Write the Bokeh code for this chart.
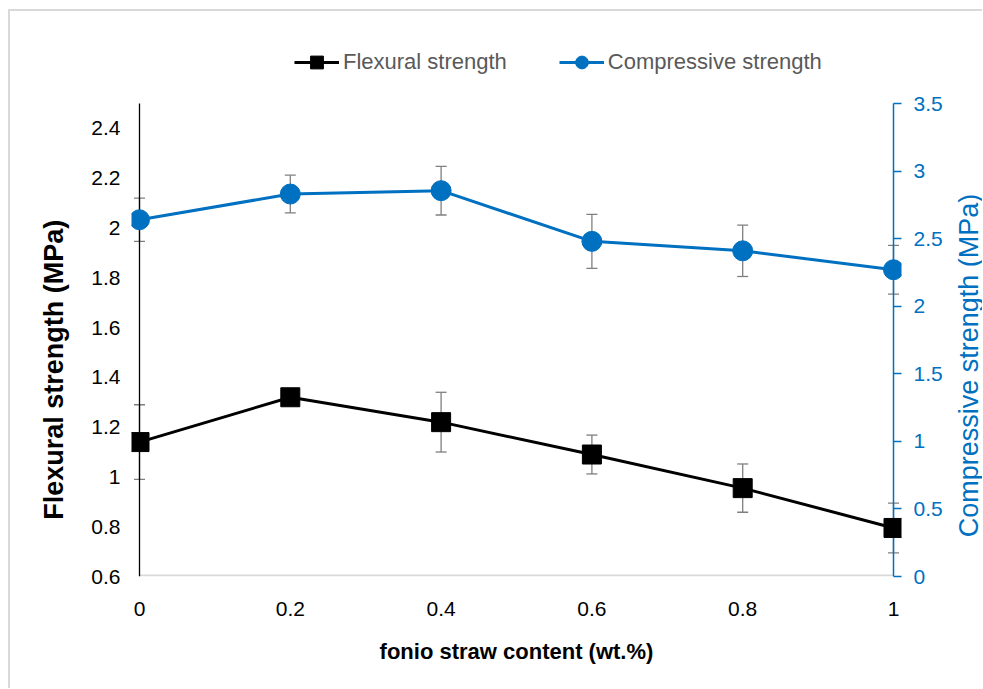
import math
from bokeh.plotting import figure
from bokeh.layouts import row
from bokeh.models import (Range1d, LinearAxis, FixedTicker, NumeralTickFormatter, Whisker,
                          TeeHead, ColumnDataSource, Legend, LegendItem, BoxAnnotation,
                          Label)
from bokeh.embed import file_html
from bokeh.resources import INLINE

# ---- data ----
content = [0.0, 0.2, 0.4, 0.6, 0.8, 1.0]
flexural = [1.14, 1.32, 1.22, 1.09, 0.955, 0.795]
flexural_err = [0.15, 0.03, 0.12, 0.078, 0.097, 0.10]
compressive = [2.64, 2.83, 2.855, 2.48, 2.41, 2.27]
compressive_err = [0.16, 0.14, 0.18, 0.20, 0.19, 0.18]

x_ticks = [0.0, 0.2, 0.4, 0.6, 0.8, 1.0]
left_ticks = [0.6, 0.8, 1.0, 1.2, 1.4, 1.6, 1.8, 2.0, 2.2, 2.4]
right_ticks = [0.0, 0.5, 1.0, 1.5, 2.0, 2.5, 3.0, 3.5]
X_MIN, X_MAX = 0.0, 1.0
L_MIN, L_MAX = 0.6, 2.5
R_MIN, R_MAX = 0.0, 3.5

BLUE = "#0070C0"
GRAY = "#7f7f7f"
FONT = "Liberation Sans"
NBSP = "\u00a0"

# ---- layout (pixels) ----
FIG_H = 688
AXIS_H = 473          # height of the value axes
AXIS_W = 754          # length of the x axis
SIDE = 8              # room beside the x axis for the end markers
TOP_ROOM = 68         # room above the value axes for the legend
BOTTOM = 112          # room below the plot area
px_l = AXIS_H / (L_MAX - L_MIN)
px_r = AXIS_H / (R_MAX - R_MIN)
px_x = AXIS_W / (X_MAX - X_MIN)

p = figure(width=946, height=FIG_H, output_backend="svg", toolbar_location=None,
           x_range=Range1d(X_MIN - SIDE / px_x, X_MAX + SIDE / px_x),
           y_range=Range1d(L_MIN, L_MAX + TOP_ROOM / px_l),
           min_border_left=131, min_border_right=45, min_border_top=35,
           min_border_bottom=BOTTOM)
p.extra_y_ranges = {"right": Range1d(R_MIN, R_MAX + TOP_ROOM / px_r)}
p.xgrid.visible = False
p.ygrid.visible = False
p.outline_line_color = None
p.border_fill_color = None
p.styles = {"box-shadow": "inset 8px 9px 0 0 #ffffff, inset 10px 11px 0 0 #d9d9d9"}

# x axis
xa = p.xaxis[0]
xa.ticker = FixedTicker(ticks=x_ticks)
xa.formatter = NumeralTickFormatter(format="0.[0]")
xa.axis_line_color = None
xa.major_tick_in = 0
xa.major_tick_out = 0
xa.minor_tick_line_color = None
xa.major_label_text_font = FONT
xa.major_label_text_font_size = "21px"
xa.major_label_text_color = "black"
xa.major_label_standoff = 25
xa.axis_label = "fonio straw content (wt.%)"
xa.axis_label_text_font = FONT
xa.axis_label_text_font_size = "22px"
xa.axis_label_text_font_style = "bold"
xa.axis_label_text_color = "black"
xa.axis_label_standoff = 20

# left axis
ya = p.yaxis[0]
ya.ticker = FixedTicker(ticks=left_ticks)
ya.formatter = NumeralTickFormatter(format="0.[0]")
ya.axis_line_color = None
ya.major_tick_in = 0
ya.major_tick_out = 0
ya.minor_tick_line_color = None
ya.major_label_text_font = FONT
ya.major_label_text_font_size = "21px"
ya.major_label_text_color = "black"
ya.major_label_standoff = 11
ya.axis_label = "Flexural strength (MPa)" + NBSP * 17
ya.axis_label_text_font = FONT
ya.axis_label_text_font_size = "27px"
ya.axis_label_text_font_style = "bold"
ya.axis_label_text_color = "black"
ya.axis_label_standoff = 19

# right axis
ra = LinearAxis(y_range_name="right", ticker=FixedTicker(ticks=right_ticks),
                formatter=NumeralTickFormatter(format="0.[0]"),
                axis_line_color=None, major_tick_in=8, major_tick_out=0,
                major_tick_line_color=BLUE, major_tick_line_width=1.5,
                minor_tick_line_color=None,
                major_label_text_font=FONT, major_label_text_font_size="21px",
                major_label_text_color=BLUE, major_label_standoff=12)
p.add_layout(ra, "right")

# axis lines
p.add_layout(BoxAnnotation(left=X_MIN, right=X_MAX, bottom=L_MIN, top=L_MIN + 2.0 / px_l,
                           fill_color="#d9d9d9", fill_alpha=1, line_color=None,
                           level="underlay"))

# error bars
src_f = ColumnDataSource(dict(x=content,
                              upper=[v + e for v, e in zip(flexural, flexural_err)],
                              lower=[v - e for v, e in zip(flexural, flexural_err)]))
src_c = ColumnDataSource(dict(x=content,
                              upper=[v + e for v, e in zip(compressive, compressive_err)],
                              lower=[v - e for v, e in zip(compressive, compressive_err)]))
for src, rng in ((src_f, "default"), (src_c, "right")):
    w = Whisker(source=src, base="x", upper="upper", lower="lower",
                line_color=GRAY, line_width=1.3, y_range_name=rng, level="underlay",
                upper_head=TeeHead(size=11, line_color=GRAY, line_width=1.3),
                lower_head=TeeHead(size=11, line_color=GRAY, line_width=1.3))
    p.add_layout(w)

p.segment(x0=[X_MIN], y0=[L_MIN], x1=[X_MIN], y1=[L_MAX], line_color="black",
          line_width=1.3)
p.segment(x0=[X_MAX], y0=[R_MIN], x1=[X_MAX], y1=[R_MAX], line_color=BLUE,
          line_width=1.5, y_range_name="right")

# series
lf = p.line(content, flexural, line_color="black", line_width=3)
sf = p.scatter(content, flexural, marker="square", size=19, fill_color="black",
               line_color="black")
lc = p.line(content, compressive, line_color=BLUE, line_width=3, y_range_name="right")
sc = p.scatter(content, compressive, marker="circle", size=20, fill_color=BLUE,
               line_color=BLUE, y_range_name="right")

legend = Legend(items=[LegendItem(label="Flexural strength", renderers=[lf, sf]),
                       LegendItem(label="Compressive strength", renderers=[lc, sc])],
                orientation="horizontal", location=(163, 498),
                glyph_width=45, glyph_height=32, label_standoff=4, spacing=52,
                padding=0, margin=0, border_line_color=None,
                background_fill_color=None, background_fill_alpha=0,
                label_text_font=FONT, label_text_font_size="22px",
                label_text_color="#595959")
p.add_layout(legend, "center")

# narrow strip on the right holding the right-axis title
# (its plot area is aligned with the main plot area by the row layout)
q = figure(width=36, height=FIG_H, output_backend="svg", toolbar_location=None,
           x_axis_location=None, y_axis_location=None,
           x_range=Range1d(0, 1), y_range=Range1d(0, 1),
           min_border=0, min_border_left=0, min_border_right=0,
           min_border_top=0, min_border_bottom=0)
q.xgrid.visible = False
q.ygrid.visible = False
q.outline_line_color = None
q.border_fill_color = None
q.background_fill_color = None
q.styles = {"box-shadow": "inset 0 9px 0 0 #ffffff, inset 0 11px 0 0 #d9d9d9"}
q.add_layout(Label(x=22, y=FIG_H - BOTTOM - 365, x_units="screen", y_units="screen",
                   text="Compressive strength (MPa)", angle=math.pi / 2,
                   text_align="center", text_baseline="middle",
                   text_font=FONT, text_font_size="27px", text_color=BLUE))

layout = row(p, q, spacing=0)
open("out.html", "w").write(file_html(layout, INLINE))
